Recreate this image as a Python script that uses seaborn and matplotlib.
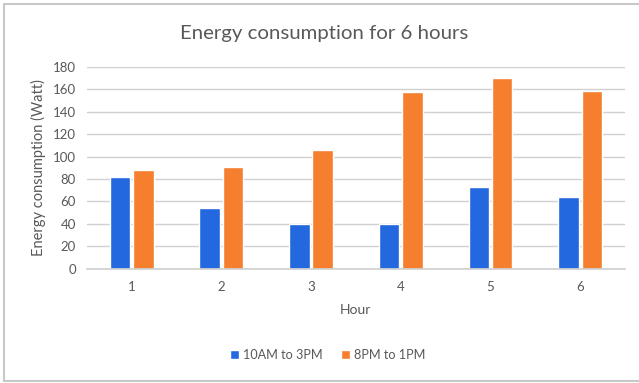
import matplotlib
matplotlib.use("Agg")
import matplotlib.pyplot as plt
import seaborn as sns
import pandas as pd
from matplotlib.lines import Line2D

hours = ["1", "2", "3", "4", "5", "6"]
morning = [82, 54.5, 40, 39.5, 73, 64]
evening = [88, 90.5, 106, 157, 170, 158]
series_names = ["10AM to 3PM", "8PM to 1PM"]
yticks = [0, 20, 40, 60, 80, 100, 120, 140, 160, 180]

df = pd.DataFrame({
    "Hour": hours * 2,
    "value": morning + evening,
    "series": [series_names[0]] * len(hours) + [series_names[1]] * len(hours),
})

sns.set_theme(style="white")
plt.rcParams["font.family"] = ["Lato", "DejaVu Sans"]

text_gray = "#595959"
grid_gray = "#D0D0D0"
palette = {series_names[0]: "#2368DE", series_names[1]: "#F57E2F"}

fig = plt.figure(figsize=(6.39, 3.83), dpi=100)
ax = fig.add_axes([0.136, 0.298, 0.842, 0.528])

sns.barplot(data=df, x="Hour", y="value", hue="series", palette=palette,
            width=0.52, gap=0.12, ax=ax, saturation=1, legend=True)

ax.set_ylim(0, 180)
ax.set_yticks(yticks)
ax.set_xlim(-0.5, len(hours) - 0.5)
ax.yaxis.grid(True, color=grid_gray, linewidth=1)
ax.set_axisbelow(True)
for side in ["top", "right", "left"]:
    ax.spines[side].set_visible(False)
ax.spines["bottom"].set_color(grid_gray)
ax.tick_params(axis="both", length=0, labelsize=9.5, labelcolor=text_gray, pad=8)
ax.tick_params(axis="x", pad=9)

ax.set_xlabel("Hour", fontsize=10, color=text_gray, labelpad=8)
ax.set_ylabel("Energy consumption (Watt)", fontsize=10.5, color=text_gray, labelpad=5)

fig.text(0.508, 0.913, "Energy consumption for 6 hours", ha="center", va="center",
         fontsize=14.7, color=text_gray)

handles, labels = ax.get_legend_handles_labels()
ax.legend_.remove()
fig.legend(handles, labels, loc="center", bbox_to_anchor=(0.513, 0.073), ncol=2,
           frameon=False, fontsize=9.1, handlelength=0.7, handleheight=0.7,
           handletextpad=0.3, columnspacing=1.5, labelcolor=text_gray)

# light frame on the top, left and bottom of the chart area
frame = dict(transform=fig.transFigure, color="#C8C8C8", linewidth=1.5)
fig.lines.append(Line2D([0.007, 1.0], [0.989, 0.989], **frame))
fig.lines.append(Line2D([0.007, 0.007], [0.005, 0.989], **frame))
fig.lines.append(Line2D([0.007, 1.0], [0.005, 0.005], **frame))

fig.savefig("out.png", dpi=100, facecolor="white")
